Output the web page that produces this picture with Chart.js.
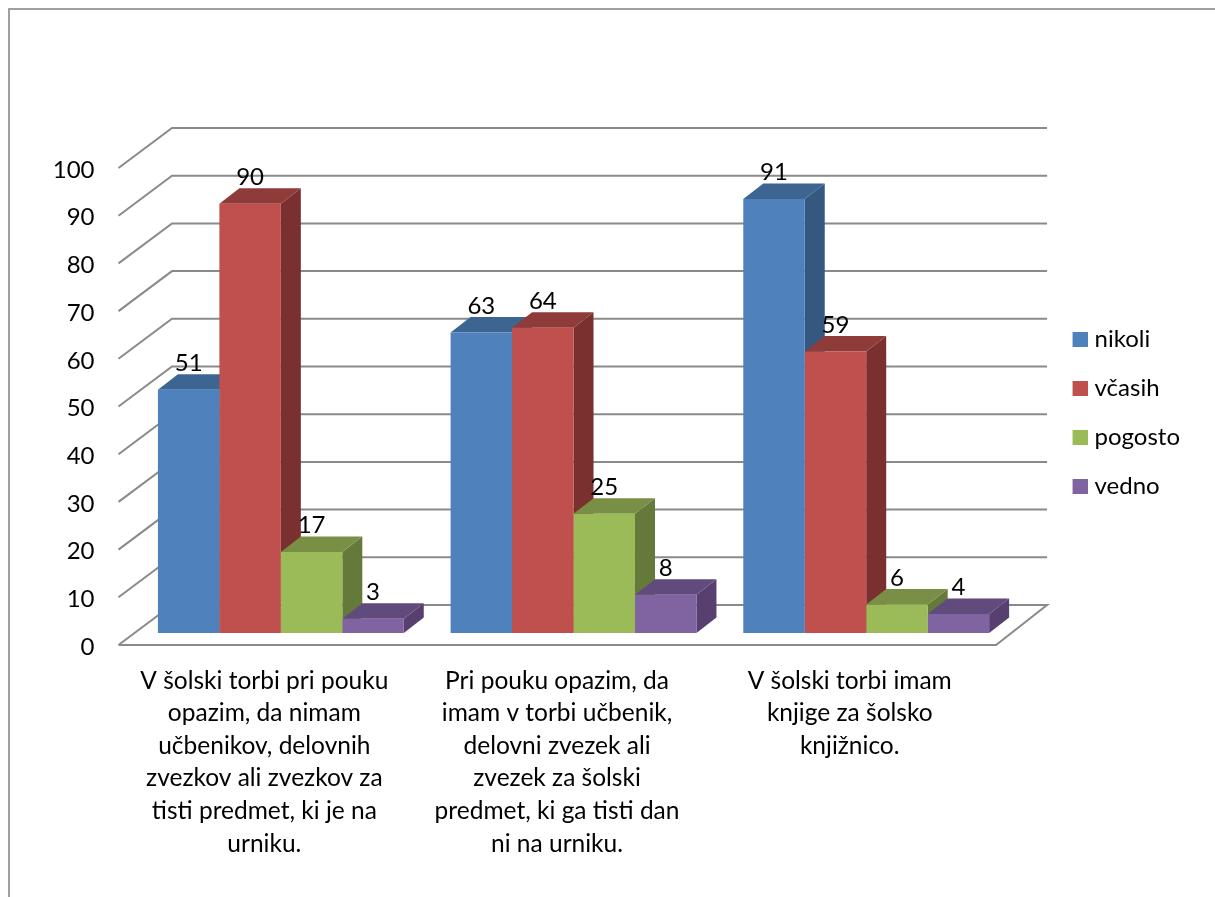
<!DOCTYPE html>
<html lang="sl">

<head>
    <meta charset="UTF-8">
    <title>Šolska torba</title>
    <script src="https://cdn.jsdelivr.net/npm/chart.js"></script>
    <style>
        body { margin: 0; background: #fff; }
        canvas { display: block; }
    </style>
</head>

<body>
    <canvas id="grafico" width="1215" height="897"></canvas>

    <script>
        const categories = [
            ['V šolski torbi pri pouku', 'opazim, da nimam', 'učbenikov, delovnih', 'zvezkov ali zvezkov za', 'tisti predmet, ki je na', 'urniku.'],
            ['Pri pouku opazim, da', 'imam v torbi učbenik,', 'delovni zvezek ali', 'zvezek za šolski', 'predmet, ki ga tisti dan', 'ni na urniku.'],
            ['V šolski torbi imam', 'knjige za šolsko', 'knjižnico.']
        ];
        const nikoli = [51, 63, 91];
        const vcasih = [90, 64, 59];
        const pogosto = [17, 25, 6];
        const vedno = [3, 8, 4];

        const FONT = 'Lato, Carlito, "Open Sans", sans-serif';
        const GRID = '#8a8a8a';
        // depth of one bar
        const DX = 20, DY = -15.5;
        // colours: front, top, side
        const faces = [
            ['#4F81BD', '#3C6591', '#345880'],
            ['#C0504D', '#8E3B39', '#7A302E'],
            ['#9BBB59', '#788F45', '#64793A'],
            ['#8064A2', '#614B7C', '#573F6F']
        ];

        function poly(ctx, pts, fill) {
            ctx.beginPath();
            pts.forEach((p, i) => i ? ctx.lineTo(p[0], p[1]) : ctx.moveTo(p[0], p[1]));
            ctx.closePath();
            ctx.fillStyle = fill;
            ctx.fill();
        }

        // legend square, drawn off centre so the text sits closer to it
        function legendBox(color) {
            const c = document.createElement('canvas');
            c.width = 20;
            c.height = 15;
            const g = c.getContext('2d');
            g.fillStyle = color;
            g.fillRect(5, 0, 15, 15);
            return c;
        }

        // walls, floor and the 3D faces of the bars
        const fake3d = {
            id: 'fake3d',
            afterLayout(chart) {
                // the x labels are clipped to the scale box
                chart.scales.x.bottom = chart.height;
            },
            beforeDraw(chart) {
                const ctx = chart.ctx;
                ctx.save();
                ctx.strokeStyle = '#a0a0a0';
                ctx.lineWidth = 2;
                ctx.beginPath();
                ctx.moveTo(9, 897);
                ctx.lineTo(9, 9);
                ctx.lineTo(1215, 9);
                ctx.stroke();
                ctx.restore();
            },
            beforeDatasetsDraw(chart) {
                const ctx = chart.ctx, y = chart.scales.y, a = chart.chartArea;
                const xf = a.left - 16, xb = a.left + 37.5, xr = a.right + 34.5, xe = a.right - 16.5;
                ctx.save();
                ctx.strokeStyle = GRID;
                ctx.lineWidth = 2;
                ctx.lineJoin = 'miter';
                y.ticks.forEach((t) => {
                    const py = y.getPixelForValue(t.value);
                    ctx.beginPath();
                    ctx.moveTo(xf, py + 12);
                    ctx.lineTo(xb, py - 28);
                    ctx.lineTo(xr, py - 28);
                    if (t.value === 0) {
                        ctx.lineTo(xe, py + 12);
                        ctx.lineTo(xf, py + 12);
                    }
                    ctx.stroke();
                });

                // left to right, the next bar's faces cover this bar's side
                const n = chart.data.labels.length;
                for (let c = 0; c < n; c++) {
                    chart.data.datasets.forEach((ds, i) => {
                        const b = chart.getDatasetMeta(i).data[c];
                        const l = b.x - b.width / 2, r = b.x + b.width / 2;
                        poly(ctx, [[r, b.y], [r + DX, b.y + DY], [r + DX, b.base + DY], [r, b.base]], faces[i][2]);
                        poly(ctx, [[l, b.y], [l + DX, b.y + DY], [r + DX, b.y + DY], [r, b.y]], faces[i][1]);
                    });
                }
                ctx.restore();
            },
            afterDatasetsDraw(chart) {
                const ctx = chart.ctx;
                ctx.save();
                ctx.font = '24px ' + FONT;
                ctx.fillStyle = '#000';
                ctx.textAlign = 'center';
                ctx.textBaseline = 'middle';
                chart.data.datasets.forEach((ds, i) => {
                    chart.getDatasetMeta(i).data.forEach((b, c) => {
                        ctx.fillText(ds.data[c], b.x, b.y - 26.5);
                    });
                });
                ctx.restore();
            }
        };

        new Chart(document.getElementById('grafico'), {
            type: 'bar',
            data: {
                labels: categories,
                datasets: [
                    { label: 'nikoli', data: nikoli, backgroundColor: faces[0][0], pointStyle: legendBox(faces[0][0]) },
                    { label: 'včasih', data: vcasih, backgroundColor: faces[1][0], pointStyle: legendBox(faces[1][0]) },
                    { label: 'pogosto', data: pogosto, backgroundColor: faces[2][0], pointStyle: legendBox(faces[2][0]) },
                    { label: 'vedno', data: vedno, backgroundColor: faces[3][0], pointStyle: legendBox(faces[3][0]) }
                ]
            },
            options: {
                responsive: false,
                animation: false,
                categoryPercentage: 0.84,
                barPercentage: 1,
                layout: { padding: { top: 156, bottom: 228, right: 25 } },
                plugins: {
                    tooltip: { enabled: false },
                    legend: {
                        position: 'right',
                        labels: {
                            color: '#000',
                            font: { family: FONT, size: 24 },
                            usePointStyle: true,
                            boxWidth: 10,
                            boxHeight: 15,
                            padding: 25
                        }
                    }
                },
                scales: {
                    x: {
                        grid: { display: false },
                        border: { display: false },
                        ticks: {
                            color: '#000',
                            font: { family: FONT, size: 24.5, lineHeight: 1.33 },
                            autoSkip: false,
                            maxRotation: 0,
                            minRotation: 0,
                            labelOffset: -16.5,
                            padding: 23.5
                        },
                        afterFit(s) { s.height = 36; }
                    },
                    y: {
                        min: 0,
                        max: 100,
                        grid: { display: false, drawTicks: false },
                        border: { display: false },
                        ticks: {
                            stepSize: 10,
                            color: '#000',
                            font: { family: FONT, size: 24 },
                            labelOffset: 14,
                            padding: 40
                        },
                        afterFit(s) { s.width = 134.5; }
                    },
                    // keeps the legend away from the plot
                    spacer: {
                        type: 'linear',
                        position: 'right',
                        grid: { display: false },
                        border: { display: false },
                        ticks: { display: false },
                        afterFit(s) { s.width = 35; }
                    }
                }
            },
            plugins: [fake3d]
        });
    </script>
</body>

</html>
